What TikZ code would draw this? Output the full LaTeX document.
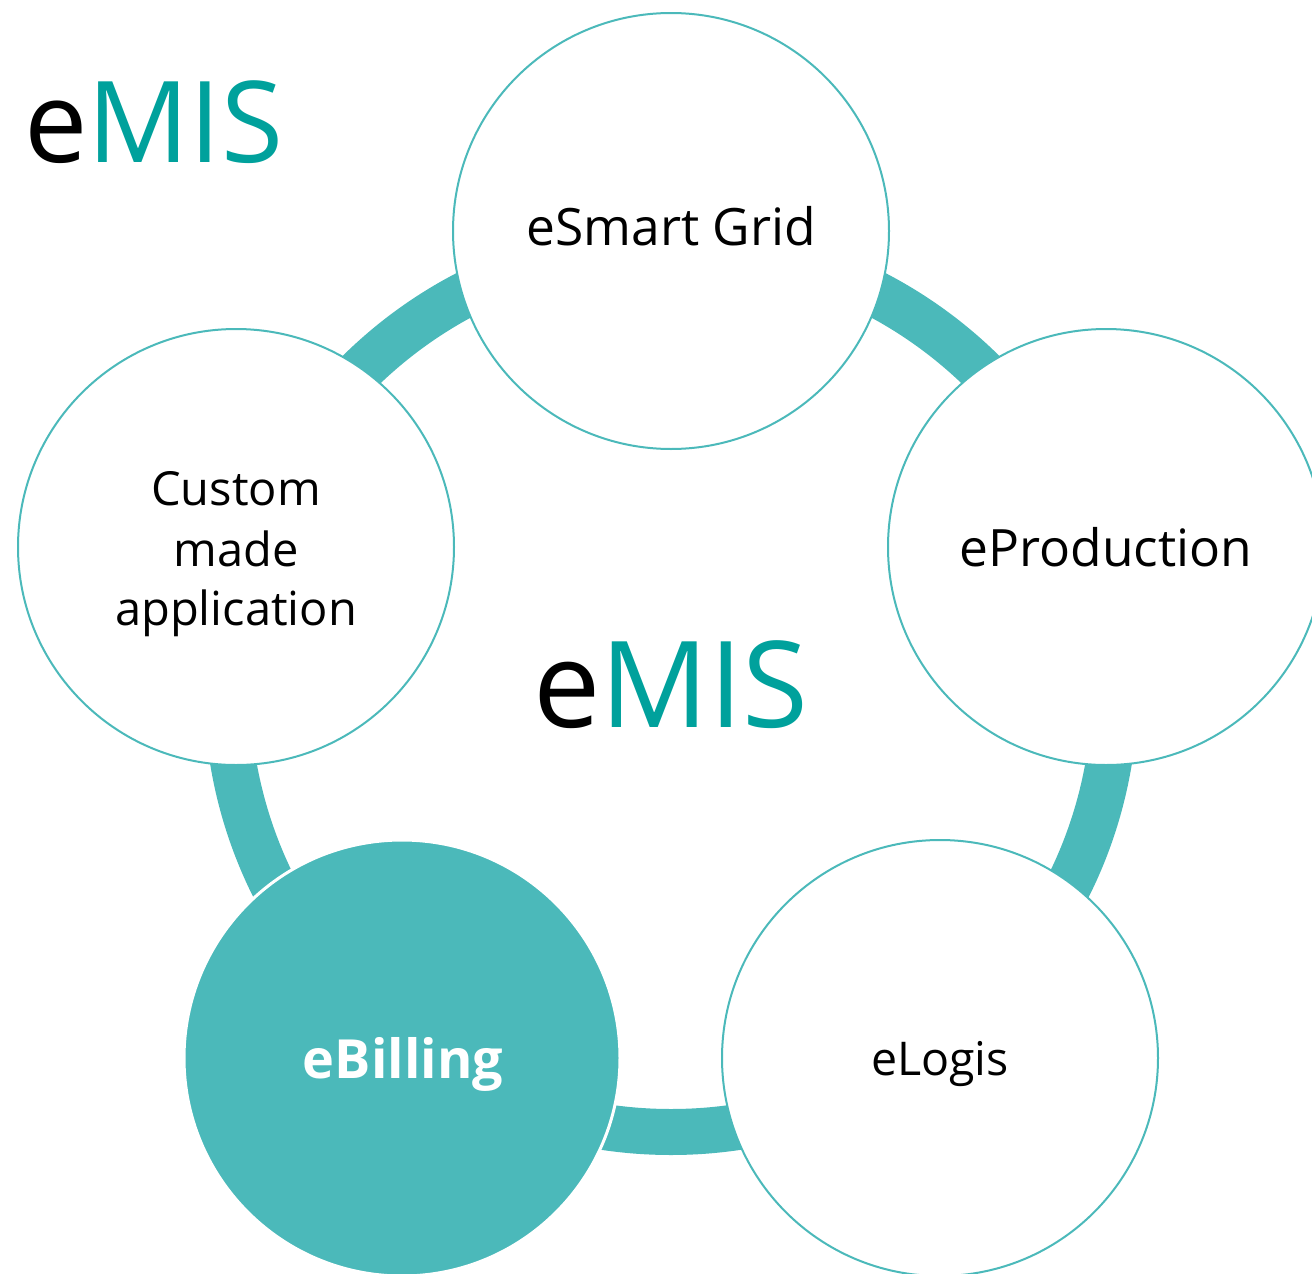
\documentclass[tikz,border=0pt]{standalone}
\usepackage{fontspec}
\setmainfont{Open Sans}
\definecolor{ringc}{HTML}{4BB9BA}
\definecolor{misc}{HTML}{00A19C}
\begin{document}
\begin{tikzpicture}[x=1pt,y=-1pt,
  bub/.style={circle, draw=ringc, line width=2pt, fill=white, minimum size=436pt, inner sep=0pt},
  hot/.style={circle, draw=white, line width=3pt, fill=ringc, minimum size=436pt, inner sep=0pt},
  lbl/.style={anchor=base, inner sep=0pt, text=black, font=\fontsize{51.5}{60}\selectfont},
  small/.style={anchor=base, inner sep=0pt, text=black, font=\fontsize{47}{60}\selectfont, align=center},
  logo/.style={inner sep=0pt}]
\useasboundingbox (0,0) rectangle (1312,1274);
\clip (0,0) rectangle (1312,1274);
\draw[ringc, line width=46pt] (671,688) circle[radius=444pt];
\node[bub] (grid) at (671,231) {};
\node[bub] (prod) at (1106,547) {};
\node[bub] (logis) at (940,1058) {};
\node[hot] (bill) at (402,1058) {};
\node[bub] (cust) at (236,547) {};
\node[lbl] (tgrid) at (671,245) {eSmart Grid};
\node[lbl] (tprod) at (1106,566) {eProduction};
\node[small, font=\fontsize{46.5}{60}\selectfont] (tlogis) at (940,1075) {eLogis};
\node[lbl, text=white, font=\fontsize{54}{60}\bfseries] (tbill) at (403,1078) {eBilling};
\node[small] (tc1) at (236,505) {Custom};
\node[small] (tc2) at (236,566) {made};
\node[small] (tc3) at (236,625) {application};
\node[logo, anchor=base, font=\fontsize{120}{130}\selectfont] (center) at (671,727) {e\textcolor{misc}{MIS}};
\node[logo, anchor=base west, font=\fontsize{113}{130}\selectfont] (corner) at (24,162) {e\textcolor{misc}{MIS}};
\end{tikzpicture}
\end{document}
